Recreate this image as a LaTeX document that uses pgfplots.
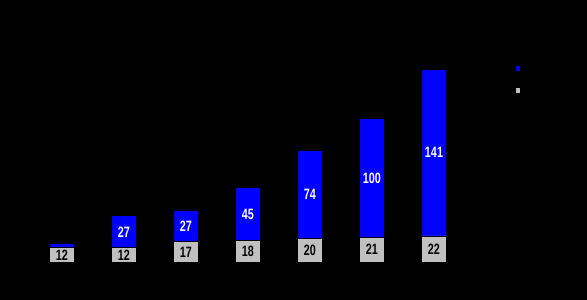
\documentclass[border=0pt]{standalone}
\usepackage{pgfplots}
\pgfplotsset{compat=1.18}
\usepackage{fontspec}
\setmainfont{Liberation Sans}
\newfontfamily\labfont[FakeStretch=0.72]{Liberation Sans}
\definecolor{barblue}{RGB}{0,0,255}
\definecolor{bargray}{RGB}{192,192,192}
\begin{document}
\begin{tikzpicture}
\useasboundingbox (0,0) rectangle (587pt,300pt);
\fill[black] (0,0) rectangle (587pt,300pt);
\begin{axis}[
  at={(0pt,38pt)}, anchor=south west,
  scale only axis, width=496pt, height=236.8pt,
  xmin=-1, xmax=7, ymin=0, ymax=200,
  hide axis,
  ybar stacked, bar width=24.8pt,
  point meta=explicit symbolic,
  nodes near coords,
  every node near coord/.append style={anchor=center, inner sep=0pt,
    font=\labfont\bfseries\fontsize{15}{15}\selectfont},
  reverse legend,
  legend style={at={(rel axis cs:1.04,0.83)}, anchor=north west,
    draw=none, fill=black, inner sep=0pt, row sep=16pt,
    nodes={inner sep=0pt, text height=6pt, text depth=0pt, font=\tiny, text=black}},
  legend image code/.code={\fill[#1, draw=none] (0pt,-2.5pt) rectangle (4pt,2.5pt);},
]
\addplot[fill=bargray, draw=black, line width=0.8pt, every node near coord/.append style={text=black}]
  coordinates {(0,12)[12] (1,12)[12] (2,17)[17] (3,18)[18] (4,20)[20] (5,21)[21] (6,22)[22]};
\addlegendentry{\phantom{x}}
\addplot[fill=barblue, draw=black, line width=0.8pt, every node near coord/.append style={text=white}]
  coordinates {(0,4)[{}] (1,27)[27] (2,27)[27] (3,45)[45] (4,74)[74] (5,100)[100] (6,141)[141]};
\addlegendentry{\phantom{x}}
\end{axis}
\end{tikzpicture}
\end{document}
